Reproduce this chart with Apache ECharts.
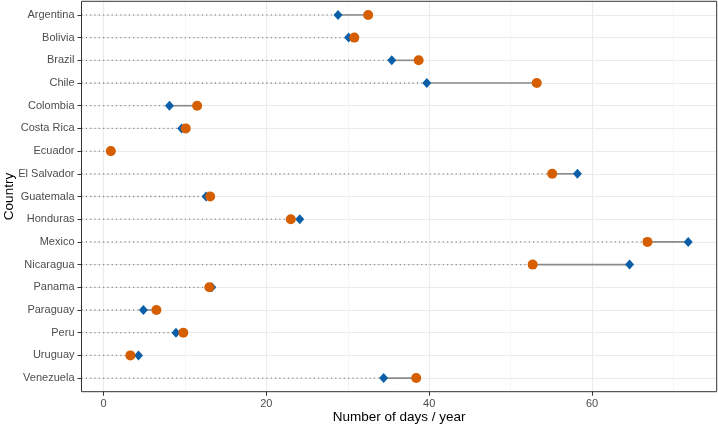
<!DOCTYPE html>
<html>
<head>
    <meta charset="utf-8" />
    <title>Number of days / year by country</title>
    <script src="https://cdn.jsdelivr.net/npm/echarts@6/dist/echarts.min.js"></script>
    <style>
        html, body { margin: 0; padding: 0; background: #fff; }
        #chart { width: 718px; height: 426px; }
    </style>
</head>
<body>
<div id="chart"></div>
<script>
    // 数据
    var countries = ['Argentina', 'Bolivia', 'Brazil', 'Chile', 'Colombia', 'Costa Rica', 'Ecuador',
        'El Salvador', 'Guatemala', 'Honduras', 'Mexico', 'Nicaragua', 'Panama', 'Paraguay',
        'Peru', 'Uruguay', 'Venezuela'];
    // 蓝色菱形
    var diamondDays = [28.8, 30.1, 35.4, 39.7, 8.1, 9.6, 0.9, 58.2, 12.6, 24.1, 71.8, 64.6, 13.3, 4.9, 8.9, 4.3, 34.4];
    // 橙色圆点
    var circleDays = [32.5, 30.8, 38.7, 53.2, 11.5, 10.1, 0.9, 55.1, 13.1, 23.0, 66.8, 52.7, 13.0, 6.5, 9.8, 3.3, 38.4];
    var xTicks = [0, 20, 40, 60];

    var xMin = -2.7, xMax = 75.3;
    var font = 'Liberation Sans, Arial, sans-serif';

    var rows = countries.map(function (c, i) { return i; });
    var lowData = countries.map(function (c, i) {
        return [Math.min(diamondDays[i], circleDays[i]), i];
    });
    var pairData = countries.map(function (c, i) {
        return [diamondDays[i], circleDays[i], i];
    });

    var myChart = echarts.init(document.getElementById('chart'));
    var option = {
        backgroundColor: '#fff',
        animation: false,
        grid: {
            left: 81.5, right: 1.3, top: 1.3, bottom: 34.3,
            outerBoundsMode: 'none',
            containLabel: false,
            show: true, borderColor: '#333', borderWidth: 1, backgroundColor: 'transparent',
            z: 10
        },
        xAxis: {
            type: 'value',
            min: xMin,
            max: xMax,
            splitNumber: 4,
            name: 'Number of days / year',
            nameLocation: 'middle',
            nameGap: 19,
            nameMoveOverlap: false,
            nameTextStyle: { color: '#000', fontSize: 13.5, fontFamily: font },
            axisLine: { show: false, onZero: false },
            axisTick: { show: true, customValues: xTicks, length: 4, lineStyle: { color: '#333', width: 1 } },
            axisLabel: { customValues: xTicks, color: '#4d4d4d', fontSize: 11, fontFamily: font, margin: 7 },
            splitLine: { show: true, lineStyle: { color: '#ebebeb', width: 1.1 } },
            minorTick: { show: false, splitNumber: 2 },
            minorSplitLine: { show: true, lineStyle: { color: '#f3f3f3', width: 0.8 } }
        },
        yAxis: {
            type: 'value',
            inverse: true,
            min: -0.6,
            max: countries.length - 0.4,
            minInterval: 1,
            maxInterval: 1,
            name: 'Country',
            nameLocation: 'middle',
            nameGap: 65,
            nameMoveOverlap: false,
            nameTextStyle: { color: '#000', fontSize: 13.5, fontFamily: font },
            axisLine: { show: false, onZero: false },
            axisTick: { show: true, customValues: rows, length: 4, lineStyle: { color: '#333', width: 1 } },
            axisLabel: {
                customValues: rows,
                color: '#4d4d4d', fontSize: 11, fontFamily: font, margin: 7,
                formatter: function (v) { return countries[Math.round(v)] || ''; }
            },
            splitLine: { show: true, lineStyle: { color: '#ebebeb', width: 1.1 } }
        },
        series: [
            {
                // 虚线：从左边到较小值
                type: 'custom',
                data: lowData,
                encode: { x: 0, y: 1 },
                z: 2,
                renderItem: function (params, api) {
                    var start = api.coord([xMin, api.value(1)]);
                    var end = api.coord([api.value(0), api.value(1)]);
                    return {
                        type: 'line',
                        shape: { x1: start[0], y1: start[1], x2: end[0], y2: end[1] },
                        style: { stroke: '#8c8c8c', lineWidth: 1.3, lineDash: [1.2, 3.1] }
                    };
                }
            },
            {
                // 两点之间的实线
                type: 'custom',
                data: pairData,
                encode: { x: [0, 1], y: 2 },
                z: 3,
                renderItem: function (params, api) {
                    var a = api.coord([api.value(0), api.value(2)]);
                    var b = api.coord([api.value(1), api.value(2)]);
                    return {
                        type: 'line',
                        shape: { x1: a[0], y1: a[1], x2: b[0], y2: b[1] },
                        style: { stroke: '#8a8a8a', lineWidth: 1.6 }
                    };
                }
            },
            {
                type: 'scatter',
                symbol: 'diamond',
                symbolSize: [9, 10],
                z: 4,
                itemStyle: { color: '#0a5fa8', opacity: 1 },
                data: countries.map(function (c, i) { return [diamondDays[i], i]; })
            },
            {
                type: 'scatter',
                symbol: 'circle',
                symbolSize: 10,
                z: 5,
                itemStyle: { color: '#d55e00', opacity: 1 },
                data: countries.map(function (c, i) { return [circleDays[i], i]; })
            }
        ]
    };
    myChart.setOption(option);
</script>
</body>
</html>
